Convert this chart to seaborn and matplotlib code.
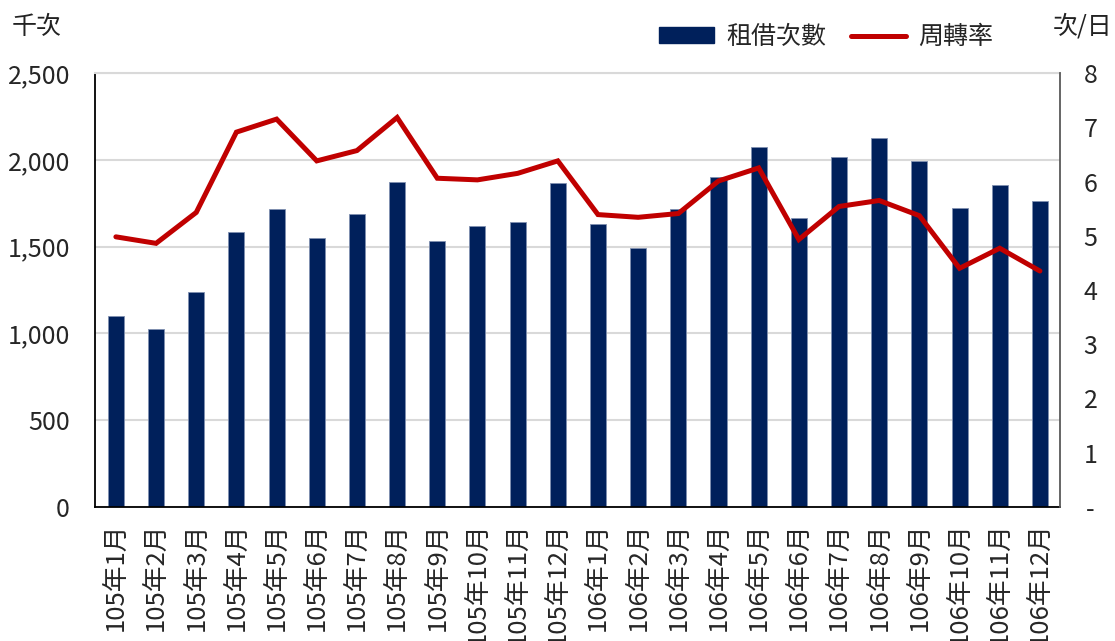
import matplotlib
matplotlib.use("Agg")
import matplotlib.pyplot as plt
import seaborn as sns
import numpy as np
import pandas as pd
from matplotlib.patches import Patch
from matplotlib.lines import Line2D
from matplotlib.ticker import FuncFormatter, MultipleLocator

months = ["105年1月", "105年2月", "105年3月", "105年4月", "105年5月", "105年6月",
          "105年7月", "105年8月", "105年9月", "105年10月", "105年11月", "105年12月",
          "106年1月", "106年2月", "106年3月", "106年4月", "106年5月", "106年6月",
          "106年7月", "106年8月", "106年9月", "106年10月", "106年11月", "106年12月"]
rentals = [1100, 1025, 1240, 1584, 1717, 1550, 1688, 1872, 1532, 1619, 1642, 1866,
           1629, 1490, 1718, 1901, 2075, 1665, 2014, 2125, 1995, 1724, 1853, 1764]
turnover = [4.98, 4.86, 5.43, 6.91, 7.15, 6.38, 6.57, 7.18, 6.06, 6.03, 6.15, 6.38,
            5.39, 5.34, 5.41, 6.01, 6.25, 4.93, 5.54, 5.65, 5.37, 4.40, 4.77, 4.35]

sns.set_style("white")
plt.rcParams['font.family'] = ['Noto Sans CJK TC', 'DejaVu Sans']

FS = 18
BAR = "#00205B"
LINE = "#C00000"

df = pd.DataFrame({"month": months, "rentals": rentals, "turnover": turnover})

fig = plt.figure(figsize=(11.15, 6.41), dpi=100)
ax = fig.add_axes([95/1115, 1-507/641, (1060-95)/1115, (507-73)/641])

sns.barplot(data=df, x="month", y="rentals", color=BAR, width=0.4, ax=ax,
            saturation=1, edgecolor="#8090B0", linewidth=0.6, zorder=2)
ax.set_ylim(0, 2500)
ax.set_xlim(-0.52, 23.5)
ax.yaxis.set_major_locator(MultipleLocator(500))
ax.yaxis.set_major_formatter(FuncFormatter(lambda v, p: f"{int(v):,}"))
ax.grid(axis="y", color="#D9D9D9", linewidth=1.5, zorder=0)
ax.set_axisbelow(True)
ax.set_xlabel("")
ax.set_ylabel("")
ax.tick_params(axis="y", length=0, pad=18, labelsize=FS)
ax.tick_params(axis="x", length=0, pad=11, labelsize=18.5, rotation=90)
for s in ["left", "bottom"]:
    ax.spines[s].set_color("black")
    ax.spines[s].set_linewidth(1.3)
ax.spines["top"].set_color("#D9D9D9")
ax.spines["top"].set_linewidth(1.5)
ax.spines["right"].set_visible(False)

ax2 = ax.twinx()
sns.lineplot(x=np.arange(len(turnover)), y=turnover, ax=ax2, color=LINE,
             linewidth=3.6, solid_joinstyle="miter", zorder=3)
ax2.set_ylim(0, 8)
ax2.yaxis.set_major_locator(MultipleLocator(1))
ax2.yaxis.set_major_formatter(FuncFormatter(lambda v, p: "-" if v == 0 else f"{int(v)}"))
ax2.tick_params(axis="y", length=0, pad=22, labelsize=FS)
for lab in ax2.get_yticklabels():
    lab.set_horizontalalignment("center")
ax2.set_ylabel("")
ax2.spines["right"].set_color("#595959")
ax2.spines["right"].set_linewidth(1.3)
ax2.spines["top"].set_visible(False)
ax2.spines["left"].set_visible(False)
ax2.spines["bottom"].set_visible(False)
ax2.set_xlim(-0.52, 23.5)

fig.text(12/1115, 1-27/641, "千次", fontsize=FS, va="center", ha="left", color="#222222")
fig.text(1112/1115, 1-27/641, "次/日", fontsize=FS, va="center", ha="right", color="#222222")

handles = [Patch(facecolor=BAR, edgecolor=BAR),
           Line2D([0], [0], color=LINE, linewidth=3.6)]
fig.legend(handles, ["租借次數", "周轉率"], loc="center",
           bbox_to_anchor=(826/1115, 1-37/641), ncol=2, frameon=False,
           fontsize=FS, handlelength=2.2, handleheight=0.6, columnspacing=1.0,
           handletextpad=0.5)

fig.savefig("out.png", dpi=100)
